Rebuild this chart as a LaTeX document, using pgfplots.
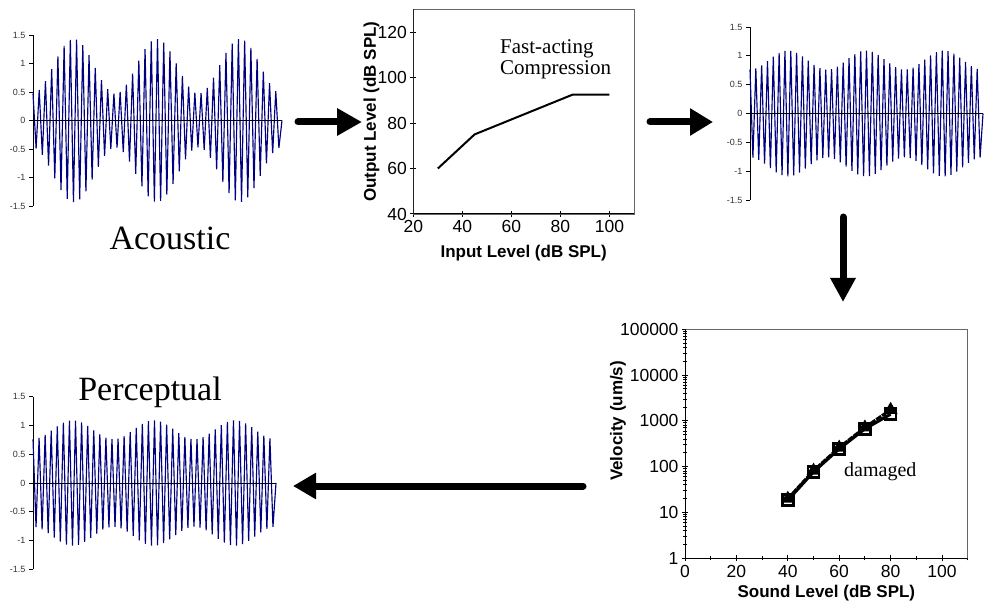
\documentclass[border=0pt]{standalone}
\usepackage{fontspec}
\setmainfont{Liberation Sans}
\newfontfamily\serif{Liberation Serif}
\usepackage{pgfplots}
\pgfplotsset{compat=1.18}
\usepackage{pgfplotstable}
\usetikzlibrary{arrows.meta}

\definecolor{wave}{rgb}{0,0,0.5}

% acoustic input: AM tone, one row per half cycle
\pgfplotstableread{
n y
0 0.471
1 -0.491
2 0.536
3 -0.604
4 0.691
5 -0.792
6 0.902
7 -1.015
8 1.124
9 -1.223
10 1.308
11 -1.373
12 1.414
13 -1.430
14 1.419
15 -1.383
16 1.322
17 -1.242
18 1.145
19 -1.037
20 0.925
21 -0.814
22 0.710
23 -0.620
24 0.548
25 -0.498
26 0.473
27 -0.474
28 0.502
29 -0.554
30 0.628
31 -0.720
32 0.824
33 -0.936
34 1.048
35 -1.155
36 1.251
37 -1.330
38 1.388
39 -1.422
40 1.429
41 -1.411
42 1.367
43 -1.300
44 1.214
45 -1.113
46 1.004
47 -0.891
48 0.781
49 -0.681
50 0.596
51 -0.530
52 0.487
53 -0.470
54 0.480
55 -0.515
56 0.574
57 -0.654
58 0.750
59 -0.857
60 0.970
61 -1.081
62 1.185
63 -1.276
64 1.349
65 -1.400
66 1.427
67 -1.427
68 1.400
69 -1.349
70 1.276
71 -1.185
72 1.081
73 -0.970
74 0.857
75 -0.750
76 0.654
77 -0.574
78 0.515
79 -0.480
80 0
}\acoustic

% after compression (also the perceptual result)
\pgfplotstableread{
n y
0 0.760
1 -0.767
2 0.783
3 -0.806
4 0.836
5 -0.871
6 0.909
7 -0.947
8 0.985
9 -1.019
10 1.048
11 -1.070
12 1.085
13 -1.090
14 1.086
15 -1.074
16 1.053
17 -1.025
18 0.992
19 -0.955
20 0.916
21 -0.878
22 0.843
23 -0.811
24 0.787
25 -0.770
26 0.761
27 -0.761
28 0.771
29 -0.789
30 0.814
31 -0.846
32 0.882
33 -0.920
34 0.959
35 -0.996
36 1.028
37 -1.056
38 1.075
39 -1.087
40 1.090
41 -1.084
42 1.068
43 -1.045
44 1.016
45 -0.981
46 0.943
47 -0.905
48 0.867
49 -0.833
50 0.803
51 -0.781
52 0.766
53 -0.760
54 0.763
55 -0.775
56 0.796
57 -0.823
58 0.856
59 -0.893
60 0.932
61 -0.970
62 1.006
63 -1.037
64 1.062
65 -1.080
66 1.089
67 -1.089
68 1.080
69 -1.062
70 1.037
71 -1.006
72 0.970
73 -0.932
74 0.893
75 -0.856
76 0.823
77 -0.796
78 0.775
79 -0.763
80 0
}\compressed

\pgfplotsset{
  wavepanel/.style={
    scale only axis, anchor=south west,
    xmin=0, xmax=80, ymin=-1.5, ymax=1.5,
    axis x line=none, axis y line=left,
    axis line style={-, black, line width=0.9pt},
    xtick=\empty,
    ytick={-1.5,-1,-0.5,0,0.5,1,1.5},
    yticklabels={-1.5,-1,-0.5,0,0.5,1,1.5},
    tick align=outside, major tick length=4pt,
    tick style={black, line width=0.9pt},
    yticklabel style={font=\fontsize{9}{10}\selectfont, text=black!80},
    clip=false,
  },
  boxpanel/.style={
    scale only axis, anchor=south west,
    axis line style={black!60, line width=0.8pt},
    xtick pos=left, ytick pos=left,
    tick align=center, major tick length=6pt, minor tick length=4pt,
    tick style={black, line width=1pt},
    tick label style={font=\fontsize{17.5}{18}\selectfont},
    label style={font=\fontsize{17}{18}\selectfont\bfseries},
  },
}

\begin{document}
\begin{tikzpicture}[x=1pt,y=1pt]
\path[use as bounding box] (0pt,0pt) rectangle (984pt,611pt);

% acoustic waveform
\begin{axis}[wavepanel, at={(33pt,405pt)}, width=249pt, height=171pt]
\addplot[wave, line width=1.15pt] table[x=n,y=y]{\acoustic};
\addplot[black, line width=0.9pt] coordinates {(0,0) (80,0)};
\end{axis}
\node[font=\serif\fontsize{34}{36}\selectfont, anchor=base] at (170pt,361pt) {Acoustic};

% compression rule
\begin{axis}[boxpanel, at={(413.3pt,397pt)}, width=220.7pt, height=204.7pt,
  xmin=20, xmax=110, ymin=40, ymax=130,
  xtick={20,40,60,80,100}, ytick={40,60,80,100,120},
  xticklabels={20,40,60,80,100}, yticklabels={40,60,80,100,120},
  xlabel={Input Level (dB SPL)}, ylabel={Output Level (dB SPL)},
  xlabel style={at={(axis description cs:0.5,-0.19)}, anchor=center},
  ylabel style={at={(axis description cs:-0.19,0.5)}, anchor=center},
]
\draw[black, line width=1.2pt] (rel axis cs:0,1) -- (rel axis cs:0,0) -- (rel axis cs:1,0);
\addplot[black, line width=2pt] coordinates {(30,60) (45,75) (85,92.5) (100,92.5)};
\end{axis}
\node[font=\serif\fontsize{21}{22}\selectfont, anchor=base west] at (496.7pt,557.7pt) {Fast-acting};
\node[font=\serif\fontsize{21}{22}\selectfont, anchor=base west] at (496.7pt,536pt) {Compression};

% compressed waveform
\begin{axis}[wavepanel, at={(750pt,411pt)}, width=233pt, height=173pt]
\addplot[wave, line width=1.15pt] table[x=n,y=y]{\compressed};
\addplot[black, line width=0.9pt] coordinates {(0,0) (80,0)};
\end{axis}

% basilar membrane velocity
\begin{axis}[boxpanel, at={(685pt,52.7pt)}, width=282.7pt, height=229pt,
  ymode=log, xmin=0, xmax=110, ymin=1, ymax=100000,
  xtick={0,20,40,60,80,100}, minor xtick={10,30,50,70,90,110},
  xticklabels={0,20,40,60,80,100},
  ytick={1,10,100,1000,10000,100000},
  yticklabels={1,10,100,1000,10000,100000},
  minor ytick={2,3,4,5,6,7,8,9,20,30,40,50,60,70,80,90,200,300,400,500,600,700,800,900,2000,3000,4000,5000,6000,7000,8000,9000,20000,30000,40000,50000,60000,70000,80000,90000},
  xlabel={Sound Level (dB SPL)}, ylabel={Velocity (um/s)},
  xlabel style={at={(axis description cs:0.5,-0.152)}, anchor=center},
  ylabel style={at={(axis description cs:-0.237,0.6)}, anchor=center},
]
\draw[black, line width=1.2pt] (rel axis cs:0,1) -- (rel axis cs:0,0) -- (rel axis cs:1,0);
\addplot[black, line width=3pt, dash pattern=on 6pt off 1pt, mark=triangle*, mark size=5pt, mark options={solid}]
  coordinates {(40,20) (50,82) (60,262) (70,720) (80,1750)};
\addplot[black, line width=3pt, mark=square, mark size=5.5pt, mark options={solid, line width=2.6pt, fill=white}]
  coordinates {(40,18.5) (50,77) (60,245) (70,670) (80,1400)};
\end{axis}
\node[font=\serif\fontsize{20}{22}\selectfont, anchor=base west] at (840.7pt,134.3pt) {damaged};

% perceptual result
\begin{axis}[wavepanel, at={(33pt,41.7pt)}, width=243pt, height=172.6pt]
\addplot[wave, line width=1.15pt] table[x=n,y=y]{\compressed};
\addplot[black, line width=0.9pt] coordinates {(0,0) (80,0)};
\end{axis}
\node[font=\serif\fontsize{34}{36}\selectfont, anchor=base] at (150pt,210.3pt) {Perceptual};

% processing arrows
\draw[line width=7pt, line cap=round, -{Triangle[length=25pt,width=26pt]}] (298pt,489pt) -- (362pt,489pt);
\draw[line width=7pt, line cap=round, -{Triangle[length=23pt,width=26pt]}] (650pt,489pt) -- (713pt,489pt);
\draw[line width=7pt, line cap=round, -{Triangle[length=24pt,width=24pt]}] (843pt,394pt) -- (843pt,309pt);
\draw[line width=7pt, line cap=round, -{Triangle[length=23pt,width=25pt]}] (583pt,125pt) -- (293pt,125pt);
\end{tikzpicture}
\end{document}
